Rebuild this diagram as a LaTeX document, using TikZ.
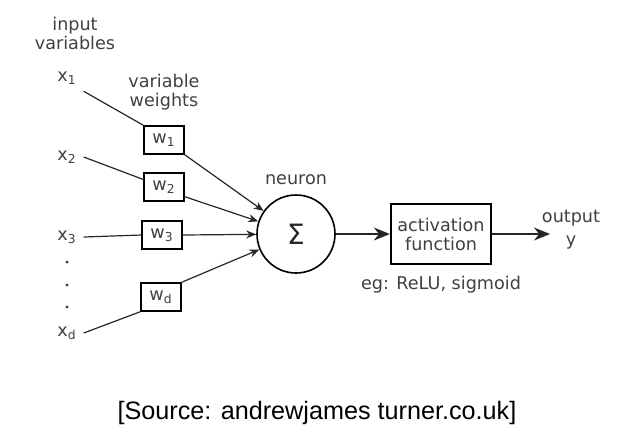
\documentclass[tikz,border=0pt]{standalone}
\usepackage{fontspec}
\setmainfont{DejaVu Sans}
\newfontfamily\srcfont{Liberation Sans}
\usepackage{tikz}
\usetikzlibrary{arrows.meta, positioning}

\begin{document}
\begin{tikzpicture}[x=0.5pt, y=-0.5pt, font=\fontsize{8.8}{10.5}\selectfont, text=black!75,
		wbox/.style={rectangle, draw, line width=0.8pt, minimum width=20pt, minimum height=14pt, inner sep=1pt},
		link/.style={line width=0.6pt, draw=black!85},
		tip/.style={-{Stealth[length=5pt, width=4pt]}},
		bigtip/.style={-{Stealth[length=8pt, width=6.5pt]}}]
			\useasboundingbox (0,0) rectangle (632,446);
			% inputs
			\node[align=center] (IN) at (75,33) {input\\[-1pt]variables};
			\node (X1) at (67,78) {x\textsubscript{1}};
			\node (X2) at (67,157) {x\textsubscript{2}};
			\node (X3) at (67,237) {x\textsubscript{3}};
			\node (XD) at (67,333) {x\textsubscript{d}};
			\foreach \y in {262,285,307} \fill[black!75] (67,\y) circle (0.8pt);
			% weights
			\node[wbox] (W1) at (164,140) {w\textsubscript{1}};
			\node[wbox] (W2) at (164,187) {w\textsubscript{2}};
			\node[wbox] (W3) at (162,235) {w\textsubscript{3}};
			\node[wbox] (WD) at (161,297) {w\textsubscript{d}};
			\node[align=center, above=4pt of W1] (VW) {variable\\[-1pt]weights};
			% neuron
			\node[circle, draw, line width=0.8pt, minimum size=39pt, inner sep=0pt, font=\fontsize{14}{16}\selectfont, text=black!85] (SUM) at (296,234) {Σ};
			\node[above=1pt of SUM] (NEU) {neuron};
			\node[rectangle, draw, line width=0.9pt, minimum width=49.5pt, minimum height=30pt, align=center] (ACT) at (441,234) {activation\\[-1pt]function};
			\node[below=2pt of ACT] (EG) {eg: ReLU, sigmoid};
			\node[align=center] (OUT) at (571,230) {output\\[1pt]y};
			\coordinate (END) at (550,234);
			% connectors
			\draw[link] (X1.south east) -- (W1.north west);
			\draw[link] (X2.east) -- (W2.160);
			\draw[link] (X3.east) -- (W3.west);
			\draw[link] (XD.east) -- (WD.south west);
			\draw[link, tip] (W1.south east) -- (SUM);
			\draw[link, tip] (W2.-25) -- (SUM);
			\draw[link, tip] (W3.east) -- (SUM);
			\draw[link, tip] (WD.north east) -- (SUM);
			\draw[link, bigtip] (SUM) -- (ACT);
			\draw[link, bigtip] (ACT) -- (END);
			% source
			\node[font=\srcfont\fontsize{12.6}{14}\selectfont, text=black] (SRC) at (317,413) {[Source: andrewjames turner.co.uk]};
		\end{tikzpicture}
\end{document}
